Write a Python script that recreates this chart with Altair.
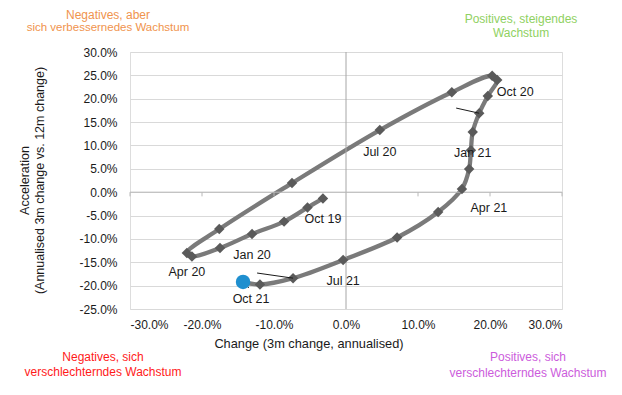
import altair as alt
import pandas as pd

FONT = "Liberation Sans"

months = ["Oct 19", "Nov 19", "Dec 19", "Jan 20", "Feb 20", "Mar 20", "Apr 20",
          "May 20", "Jun 20", "Jul 20", "Aug 20", "Sep 20", "Oct 20", "Nov 20",
          "Dec 20", "Jan 21", "Feb 21", "Mar 21", "Apr 21", "May 21", "Jun 21",
          "Jul 21", "Aug 21", "Sep 21", "Oct 21"]
change = [-3.2, -5.35, -8.6, -13.05, -17.5, -21.4, -22.1,
          -17.6, -7.5, 4.7, 14.7, 20.3, 21.0, 19.7,
          18.5, 17.6, 17.35, 17.1, 16.1, 12.8, 7.1,
          -0.4, -7.35, -11.95, -14.3]
accel = [-1.35, -3.3, -6.3, -8.95, -11.95, -13.75, -13.0,
         -7.9, 1.95, 13.3, 21.4, 24.9, 24.0, 20.6,
         16.9, 12.9, 9.0, 4.95, 0.7, -4.25, -9.7,
         -14.5, -18.4, -19.75, -19.2]

labelled = ["Oct 19", "Jan 20", "Apr 20", "Jul 20", "Oct 20", "Jan 21", "Apr 21", "Jul 21", "Oct 21"]
label_dx = [0, 0, 0, 0, 18, 0, 27, 0, 8]
label_dy = [21, 21, 19, 22, 12, 21, 19, 21, 17]

# leader lines (change, accel) start -> end
lead_x1 = [15.3, -12.35, -14.3]
lead_y1 = [18.0, -17.3, -19.2]
lead_x2 = [18.5, -7.35, -13.5]
lead_y2 = [16.9, -18.4, -20.5]

x_ticks = [-30, -20, -10, 0, 10, 20, 30]
y_ticks = [-25, -20, -15, -10, -5, 0, 5, 10, 15, 20, 25, 30]
axis_ticks = [-30, -20, -10, 10, 20, 30]

df = pd.DataFrame({"idx": list(range(len(months))), "month": months,
                   "change": change, "accel": accel})
lead_df = pd.DataFrame({"x1": lead_x1, "y1": lead_y1, "x2": lead_x2, "y2": lead_y2})
tick_df = pd.DataFrame({"t": axis_ticks})

xs = alt.Scale(domain=[-30, 30], nice=False, zero=False)
ys = alt.Scale(domain=[-25, 30], nice=False, zero=False)

lab_expr = "(datum.value < 0 ? '-' : '') + format(abs(datum.value), '.1f') + '%'"

x_axis = alt.Axis(values=x_ticks, labelExpr=lab_expr, grid=False, domain=False, ticks=False,
                  labelFontSize=12, labelFont=FONT, labelColor="#1a1a1a", labelPadding=10,
                  labelOverlap=False, title=None)
y_axis = alt.Axis(values=y_ticks, labelExpr=lab_expr, grid=True, gridColor="#d9d9d9",
                  gridWidth=1, domain=False, ticks=False, labelFontSize=12, labelFont=FONT,
                  labelColor="#1a1a1a", labelPadding=13, labelOverlap=False, title=None)

X = alt.X("change:Q", scale=xs, axis=x_axis)
Y = alt.Y("accel:Q", scale=ys, axis=y_axis)

line = alt.Chart(df).mark_line(color="#7a7a7a", strokeWidth=4.3, interpolate="catmull-rom").encode(
    x=X, y=Y, order=alt.Order("idx:Q"))

zero_v = alt.Chart(pd.DataFrame({"z": [0]})).mark_rule(color="#a6a6a6", strokeWidth=1).encode(
    x=alt.X("z:Q", scale=xs, axis=x_axis), y=alt.Y(datum=30, axis=y_axis), y2=alt.Y2(datum=-25))
zero_h = alt.Chart(pd.DataFrame({"z": [0]})).mark_rule(color="#b8b8b8", strokeWidth=1).encode(
    y=alt.Y("z:Q", scale=ys, axis=y_axis), x=alt.X(datum=-30, axis=x_axis), x2=alt.X2(datum=30))
ticks = alt.Chart(tick_df).mark_rule(color="#b8b8b8", strokeWidth=1).encode(
    x=alt.X("t:Q", scale=xs, axis=x_axis), y=alt.Y(datum=0, axis=y_axis), y2=alt.Y2(datum=-0.9))

diamonds = alt.Chart(df).transform_filter(f"datum.idx < {len(months) - 1}").mark_point(
    shape="diamond", filled=True, size=110, color="#5a5a5a", opacity=1).encode(x=X, y=Y)

last = alt.Chart(df).transform_filter(f"datum.idx == {len(months) - 1}").mark_circle(
    size=210, color="#1f8fcf", opacity=1).encode(x=X, y=Y)

leaders = alt.Chart(lead_df).mark_rule(color="#1a1a1a", strokeWidth=1).encode(
    x=alt.X("x1:Q", scale=xs, axis=x_axis), y=alt.Y("y1:Q", scale=ys, axis=y_axis),
    x2="x2:Q", y2="y2:Q")

layers = [line, zero_v, zero_h, ticks, diamonds, leaders, last]

for m, dx, dy in zip(labelled, label_dx, label_dy):
    layers.append(
        alt.Chart(df).transform_filter(alt.datum.month == m).mark_text(
            font=FONT, fontSize=12.5, color="#1a1a1a", dx=dx, dy=dy).encode(
            x=X, y=Y, text="month:N"))


def note(text, x, y, color, angle=0, size=12):
    return alt.Chart(pd.DataFrame({"t": [text]})).mark_text(
        font=FONT, fontSize=size, color=color, angle=angle, align="center", baseline="middle"
    ).encode(x=alt.value(x), y=alt.value(y), text="t:N")


layers += [
    note("Negatives, aber", -22, -37, "#f0934d"),
    note("sich verbessernedes Wachstum", -22, -24, "#f0934d", size=11.5),
    note("Positives, steigendes", 391, -33, "#8fd162"),
    note("Wachstum", 391, -19, "#8fd162"),
    note("Change (3m change, annualised)", 179, 292, "#1a1a1a", size=12.8),
    note("Negatives, sich", -27, 305, "#ff1a1a"),
    note("verschlechterndes Wachstum", -27, 320, "#ff1a1a"),
    note("Positives, sich", 398, 305, "#cc5cdc"),
    note("verschlechterndes Wachstum", 398, 321, "#cc5cdc"),
    note("Acceleration", -105, 128.5, "#1a1a1a", angle=270, size=12.5),
    note("(Annualised 3m change vs. 12m change)", -90, 128.5, "#1a1a1a", angle=270, size=12.5),
]

chart = alt.layer(*layers).properties(
    width=432, height=257,
    padding={"left": 122, "top": 44, "right": 52, "bottom": 78},
    autosize=alt.AutoSizeParams(type="none"),
).configure_view(stroke=None).configure_axis(labelOverlap=False).configure(background="white")

chart.save("out.html", embed_options={"renderer": "svg", "actions": False})
